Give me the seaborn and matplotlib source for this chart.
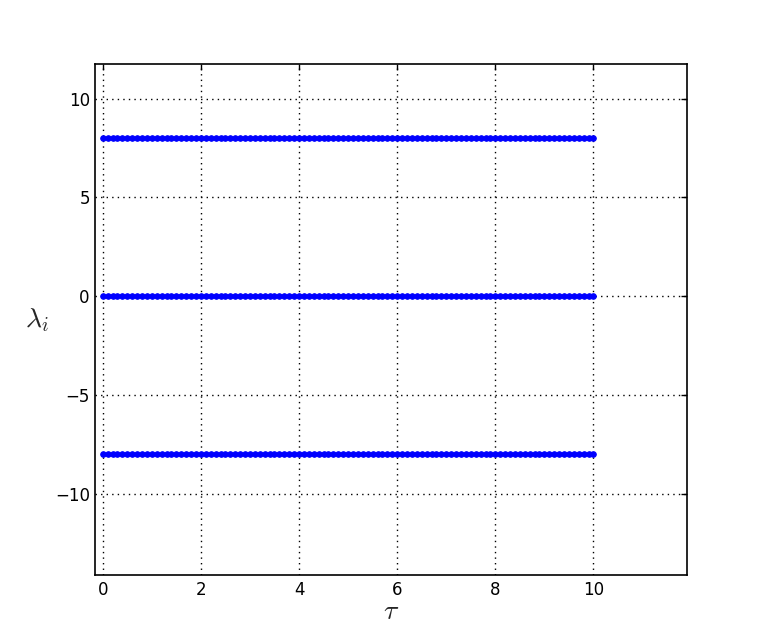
import matplotlib
matplotlib.use("Agg")
import matplotlib.pyplot as plt
import numpy as np
import pandas as pd
import seaborn as sns

# time grid and the three (constant) eigenvalues
tau = np.linspace(0, 10, 101)
lam_top = [8.0] * len(tau)
lam_mid = [0.0] * len(tau)
lam_bot = [-8.0] * len(tau)

sns.set_style("white")
plt.rcParams["font.family"] = ["DejaVu Sans"]
plt.rcParams["mathtext.fontset"] = "cm"

fig = plt.figure(figsize=(7.63, 6.39), dpi=100)
ax = fig.add_axes([0.125, 0.1, 0.775, 0.8])

for lam in (lam_top, lam_mid, lam_bot):
    df = pd.DataFrame({"tau": tau, "lam": lam})
    sns.lineplot(data=df, x="tau", y="lam", ax=ax, color="b", marker="o",
                 markersize=4, markeredgecolor="b", linewidth=1)

ax.set_xlim(-0.15, 11.9)
ax.set_ylim(-14.1, 11.75)
ax.set_xticks([0, 2, 4, 6, 8, 10])
ax.set_yticks([-10, -5, 0, 5, 10])
ax.grid(True, color="k", linestyle=(0, (1, 3)), linewidth=1.0)
ax.tick_params(direction="in", top=True, right=True, length=4, width=1,
               labelsize=12, colors="k", pad=4)
for s in ax.spines.values():
    s.set_color("k")
    s.set_linewidth(1.2)

ax.set_xlabel(r"$\tau$", fontsize=20, va="top")
ax.xaxis.set_label_coords(0.5, -0.043)
ax.set_ylabel(r"$\lambda_i$", fontsize=20, rotation=0, va="center", ha="center")
ax.yaxis.set_label_coords(-0.098, 0.5)

fig.savefig("out.png", dpi=100, facecolor="white")
